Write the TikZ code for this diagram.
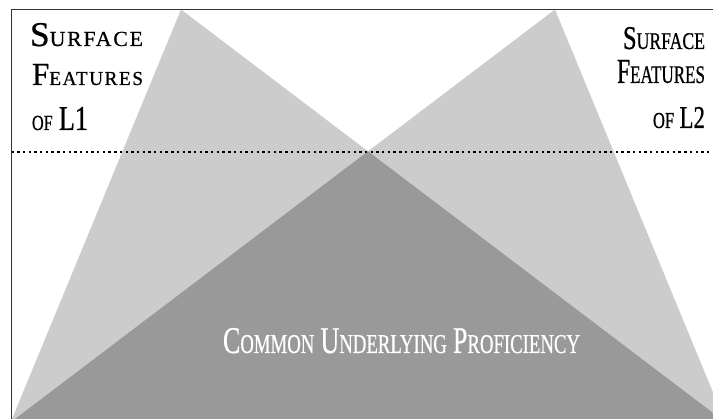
\documentclass[tikz,border=0pt]{standalone}
\usepackage{fontspec}
\setmainfont{Liberation Serif}
\usepackage{graphicx}
\definecolor{lightg}{HTML}{CCCCCC}
\definecolor{darkg}{HTML}{999999}
\definecolor{frameg}{HTML}{333333}
% fake small caps: big initial, smaller rest
\newcommand{\bigA}[1]{{\fontsize{34}{34}\selectfont #1}}
\newcommand{\smlA}[1]{{\fontsize{21}{21}\selectfont #1}}
\newcommand{\smlB}[1]{{\fontsize{24.5}{24.5}\selectfont #1}}
\newcommand{\spacedtext}[1]{{\addfontfeature{LetterSpace=8}#1}}
\newcommand{\wsp}{\hspace{8pt}}
\newcommand{\heavy}{\addfontfeature{FakeBold=0.7}}
\begin{document}
\begin{tikzpicture}[x=1pt,y=1pt,
  lbl/.style={inner sep=0pt, outer sep=0pt, font=\heavy},
  dotline/.style={black, line width=2pt, dash pattern=on 2.4pt off 3.3pt},
  frameline/.style={frameg, line width=1.6pt}]
\useasboundingbox (0,0) rectangle (713,419);
% corners of the frame
\coordinate (tl) at (11.5,409.5);
\coordinate (bl) at (11.5,0);
\coordinate (tr) at (713,409.5);
\coordinate (dl) at (11.5,267);
\coordinate (dr) at (713,267);
% triangles
\begin{scope}
  \clip (11.5,0) rectangle (713,409.5);
  \fill[lightg] (181,409.5) -- (12,0) -- (721,0) -- cycle;
  \fill[lightg] (555,409.5) -- (15,0) -- (724,0) -- cycle;
  \clip (181,409.5) -- (12,0) -- (721,0) -- cycle;
  \fill[darkg] (555,409.5) -- (15,0) -- (724,0) -- cycle;
\end{scope}
% frame and dotted divider
\draw[frameline] (bl) -- (tl) -- (tr);
\draw[dotline] (dl) -- (dr);
% left labels
\node[lbl, anchor=base west] (l1a) at (30,373)
  {\resizebox{113pt}{23pt}{\spacedtext{\bigA{S}\smlA{URFACE}}}};
\node[lbl, anchor=base west] (l1b) at (32,334)
  {\resizebox{111pt}{21pt}{\spacedtext{\bigA{F}\smlA{EATURES}}}};
\node[lbl, anchor=base west] (l1c) at (32,289)
  {\resizebox{56pt}{23pt}{\smlA{OF}\wsp\bigA{L1}}};
% right labels
\node[lbl, anchor=base east] (l2a) at (705,370)
  {\resizebox{82pt}{22pt}{\bigA{S}\smlB{URFACE}}};
\node[lbl, anchor=base east] (l2b) at (705,336)
  {\resizebox{88pt}{23pt}{\bigA{F}\smlB{EATURES}}};
\node[lbl, anchor=base east] (l2c) at (705,291)
  {\resizebox{52pt}{21pt}{\smlB{OF}\wsp\bigA{L2}}};
% bottom label
\node[lbl, anchor=base west, text=white] (cup) at (223,66)
  {\resizebox{357pt}{25pt}{\bigA{C}\smlB{OMMON}\wsp\bigA{U}\smlB{NDERLYING}\wsp\bigA{P}\smlB{ROFICIENCY}}};
\end{tikzpicture}
\end{document}
